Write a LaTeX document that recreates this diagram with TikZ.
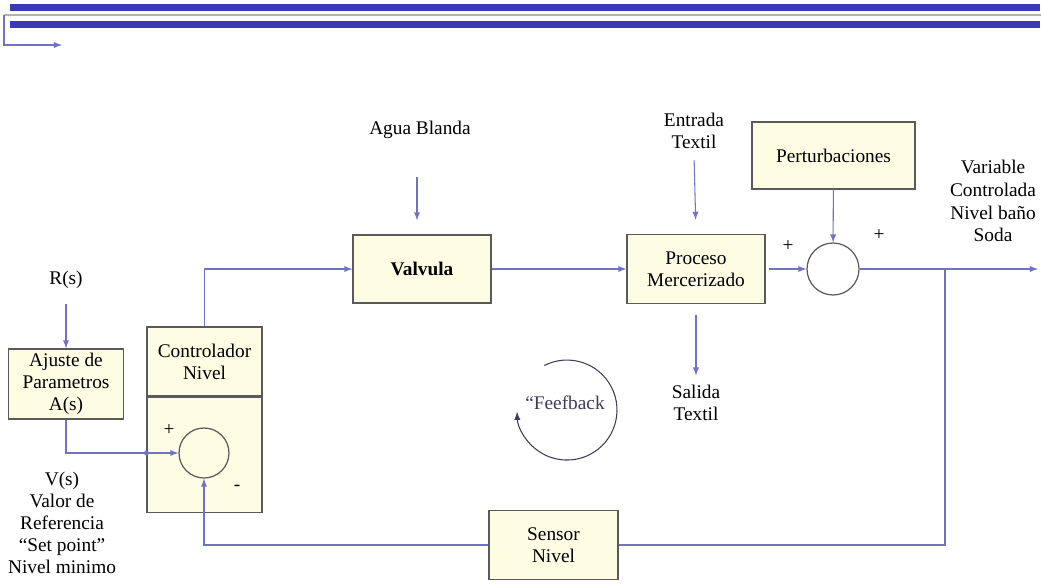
\documentclass[tikz,border=0pt]{standalone}
\usepackage{fontspec}
\setmainfont{Liberation Serif}
\usetikzlibrary{positioning}
\definecolor{azulin}{HTML}{7272C4}
\definecolor{borde}{HTML}{5A5A5A}
\definecolor{relleno}{HTML}{FDFDE4}
\definecolor{banda}{HTML}{3A3AB8}
\definecolor{tinta}{HTML}{3C3C5E}
\begin{document}
\begin{tikzpicture}[
        x=0.02cm, y=-0.02cm, % координаты в пикселях
        blok/.style={draw=borde, fill=relleno, line width=0.7pt, align=center, inner sep=0pt,
                     font=\fontsize{11}{12.5}\selectfont}, % блоки схемы
        suma/.style={circle, draw=borde, line width=0.7pt, minimum size=1cm, inner sep=0pt}, % сумматоры
        etiq/.style={align=center, font=\fontsize{11}{12.5}\selectfont},
        flecha/.style={draw=azulin, line width=0.6pt, -latex},
        enlace/.style={draw=azulin, line width=0.6pt},
    ]
    \useasboundingbox (0,0) rectangle (1041,584);

    % шапка
    \fill[banda] (10,4) rectangle (1040,11);
    \draw[gray!60, line width=0.6pt] (4,15) -- (1041,15);
    \fill[banda] (10,21) rectangle (1040,28);
    \coordinate (bandaizq) at (4,15);
    \coordinate (bandafin) at (62,45);
    \draw[flecha] (bandaizq) |- (bandafin);

    % блоки
    \node[blok, minimum width=2.3cm, minimum height=1.4cm] (ajuste) at (66,384) {Ajuste de\\Parametros\\A(s)};
    \node[blok, minimum width=2.3cm, minimum height=1.38cm] (ctrlsup) at (204.5,361.5) {Controlador\\Nivel};
    \node[blok, minimum width=2.3cm, minimum height=2.3cm, below=0pt of ctrlsup] (ctrlinf) {};
    \node[suma] (suma1) at (204,453) {};
    \node[blok, minimum width=2.76cm, minimum height=1.36cm, font=\fontsize{11}{12.5}\selectfont\bfseries] (valvula) at (422,269) {Valvula};
    \node[blok, minimum width=2.76cm, minimum height=1.38cm] (proceso) at (696,269) {Proceso\\Mercerizado};
    \node[blok, minimum width=3.26cm, minimum height=1.34cm] (perturb) at (833.5,155.5) {Perturbaciones};
    \node[suma, minimum size=1.04cm] (suma2) at (833,269) {};
    \node[blok, minimum width=2.58cm, minimum height=1.38cm] (sensor) at (553.5,545) {Sensor\\Nivel};

    % подписи
    \node[etiq] (rs) at (66,280) {R(s)};
    \node[etiq] (agua) at (420,130) {Agua Blanda};
    \node[etiq] (entrada) at (694,131) {Entrada\\Textil};
    \node[etiq] (salida) at (696,403) {Salida\\Textil};
    \node[etiq, font=\fontsize{11}{13}\selectfont] (variable) at (993,201) {Variable\\Controlada\\Nivel baño\\Soda};
    \node[etiq] (vs) at (62,523) {V(s)\\Valor de\\Referencia\\“Set point”\\Nivel minimo};
    \node[etiq, text=tinta] (feed) at (565,403) {“Feefback};
    \node[etiq] (mas1) at (169,430) {+};
    \node[etiq] (menos1) at (237,488) {-};
    \node[etiq] (mas2) at (788,246) {+};
    \node[etiq] (mas3) at (879,235) {+};

    % связи
    \coordinate (aguain) at (417,177);
    \coordinate (salidafin) at (1038,269);
    \coordinate (rama) at (945,269);
    \draw[flecha, shorten <=5pt] (rs.south) -- (ajuste.north);
    \draw[flecha] (ajuste.south) |- (suma1.west);
    \fill[azulin] (ctrlinf.west |- suma1.west) circle[radius=1.4pt];
    \draw[flecha] (ctrlsup.north) |- (valvula.west);
    \draw[flecha, shorten >=8pt] (aguain) -- (aguain |- valvula.north);
    \draw[flecha] (valvula) -- (proceso);
    \draw[flecha, shorten <=3pt, shorten >=8pt] (entrada.south) -- (proceso.north);
    \draw[flecha, shorten <=2pt] (proceso) -- (suma2);
    \draw[flecha] (perturb) -- (suma2);
    \draw[flecha] (suma2) -- (salidafin);
    \draw[enlace] (rama) |- (sensor.east);
    \draw[flecha] (sensor.west) -| (suma1.south);
    \draw[flecha, shorten <=6pt, shorten >=2pt] (proceso.south) -- (salida.north);

    % обратная связь
    \draw[tinta, line width=0.6pt, -latex] (544.3,365.5) arc[start angle=117, end angle=-178, radius=1cm];
\end{tikzpicture}
\end{document}
